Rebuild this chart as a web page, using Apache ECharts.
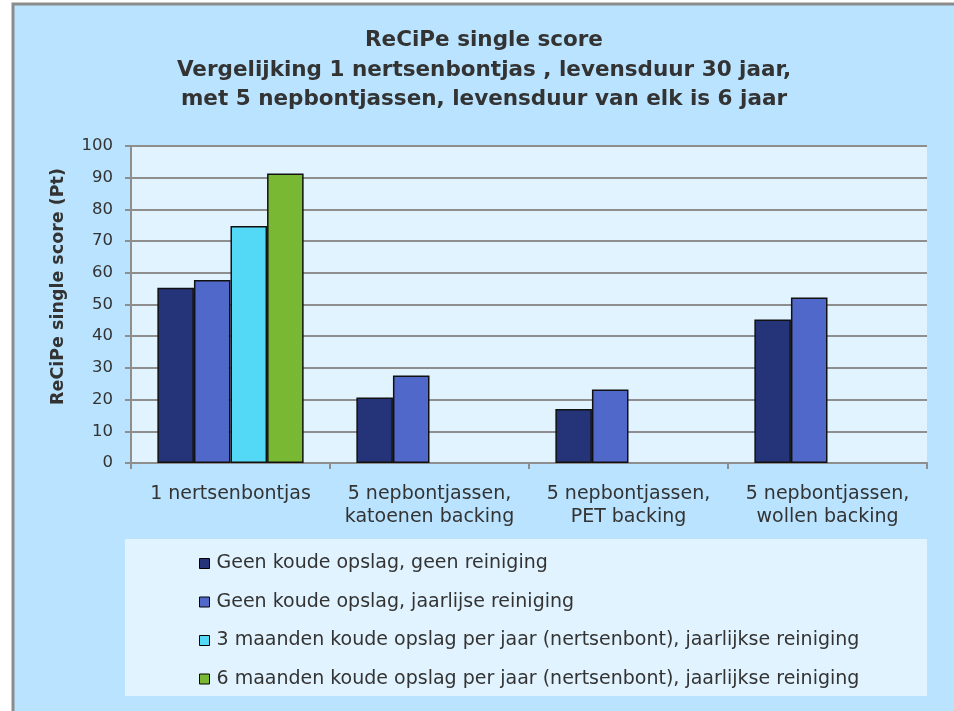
<!DOCTYPE html>
<html>
<head>
<meta charset="utf-8">
<script src="https://cdn.jsdelivr.net/npm/echarts@6/dist/echarts.min.js"></script>
<style>
  html, body { margin: 0; padding: 0; background: #fff; }
  #chart { width: 954px; height: 711px; }
</style>
</head>
<body>
<div id="chart"></div>
<script>
// categories on the x axis
const categories = [
  '1 nertsenbontjas',
  '5 nepbontjassen,\nkatoenen backing',
  '5 nepbontjassen,\nPET backing',
  '5 nepbontjassen,\nwollen backing'
]
const seriesNames = [
  'Geen koude opslag, geen reiniging',
  'Geen koude opslag, jaarlijse reiniging',
  '3 maanden koude opslag per jaar (nertsenbont), jaarlijkse reiniging',
  '6 maanden koude opslag per jaar (nertsenbont), jaarlijkse reiniging'
]
// values per series (Pt)
const geenGeen = [55.3, 20.7, 17.0, 45.3]
const geenJaarlijks = [57.7, 27.6, 23.2, 52.2]
const drieMaanden = [74.8, null, null, null]
const zesMaanden = [91.3, null, null, null]
const yTicks = [0, 10, 20, 30, 40, 50, 60, 70, 80, 90, 100]

const colors = ['#253479', '#5068C9', '#53D8F6', '#78B833']
const font = '"DejaVu Sans", sans-serif'
const textColor = '#333333'
const gridColor = '#8e8e8e'

const chartDom = document.getElementById('chart')
const myChart = echarts.init(chartDom)

const allData = [geenGeen, geenJaarlijks, drieMaanden, zesMaanden]

let option = {
  backgroundColor: '#ffffff',
  animation: false,
  textStyle: { fontFamily: font },
  graphic: [
    {
      type: 'rect',
      z: -10,
      shape: { x: 13, y: 4, width: 960, height: 720 },
      style: { fill: '#B9E3FE', stroke: '#8c8c8c', lineWidth: 3 }
    },
    {
      type: 'rect',
      z: -9,
      shape: { x: 125, y: 539, width: 802, height: 157 },
      style: { fill: '#E0F3FF' }
    }
  ],
  title: {
    text: 'ReCiPe single score\nVergelijking 1 nertsenbontjas , levensduur 30 jaar,\nmet 5 nepbontjassen, levensduur van elk is 6 jaar',
    left: 479,
    textAlign: 'center',
    top: 21,
    textStyle: {
      fontFamily: font,
      fontSize: 21.5,
      fontWeight: 'bold',
      color: textColor,
      lineHeight: 29.5
    }
  },
  legend: {
    orient: 'vertical',
    left: 194,
    top: 547.5,
    itemWidth: 10,
    itemHeight: 10,
    itemGap: 16.5,
    icon: 'rect',
    data: seriesNames,
    itemStyle: { borderColor: '#000', borderWidth: 1 },
    textStyle: {
      fontFamily: font,
      fontSize: 19,
      color: textColor,
      lineHeight: 22,
      padding: [0, 0, 0, 2]
    }
  },
  grid: {
    left: 131,
    right: 27,
    top: 146,
    bottom: 248,
    show: true,
    backgroundColor: '#E0F3FF',
    borderWidth: 0
  },
  xAxis: {
    type: 'category',
    data: categories,
    axisLine: { lineStyle: { color: gridColor, width: 2 } },
    axisTick: { show: true, length: 6, lineStyle: { color: gridColor, width: 2 } },
    axisLabel: {
      interval: 0,
      margin: 20,
      fontFamily: font,
      fontSize: 19,
      color: textColor,
      lineHeight: 23
    }
  },
  yAxis: {
    type: 'value',
    min: yTicks[0],
    max: yTicks[yTicks.length - 1],
    interval: 10,
    name: 'ReCiPe single score (Pt)',
    nameLocation: 'middle',
    nameGap: 64,
    nameTextStyle: {
      fontFamily: font,
      fontSize: 17.5,
      fontWeight: 'bold',
      color: textColor,
      padding: [0, 0, 0, 36]
    },
    axisLine: { show: true, lineStyle: { color: gridColor, width: 2 } },
    axisTick: { show: true, length: 6, lineStyle: { color: gridColor, width: 2 } },
    splitLine: { lineStyle: { color: gridColor, width: 2 } },
    axisLabel: {
      margin: 18,
      fontFamily: font,
      fontSize: 16.5,
      color: textColor
    }
  },
  series: seriesNames.map((name, i) => {
    return {
      name: name,
      type: 'bar',
      data: allData[i],
      barGap: '0%',
      barCategoryGap: '26.5%',
      itemStyle: {
        color: colors[i],
        borderColor: '#111',
        borderWidth: 1.5
      }
    }
  })
}
option && myChart.setOption(option)
</script>
</body>
</html>
